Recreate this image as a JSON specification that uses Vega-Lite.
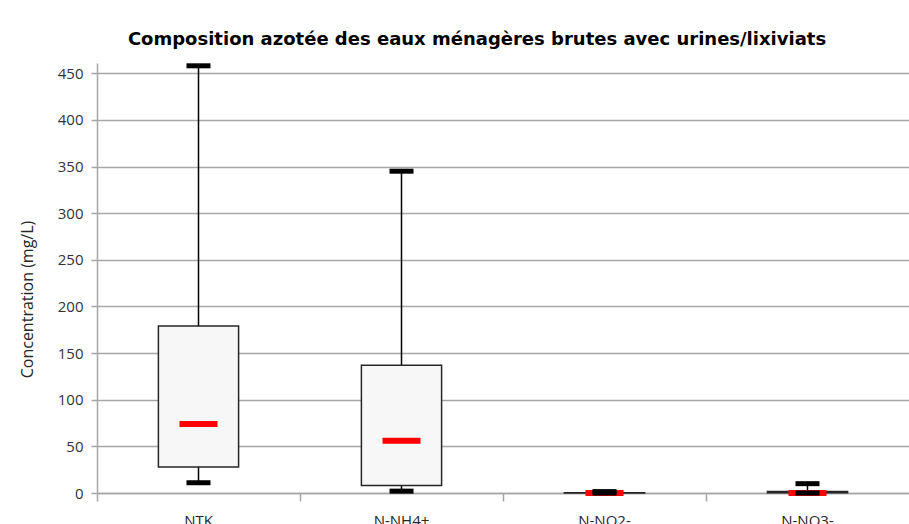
{
  "$schema": "https://vega.github.io/schema/vega-lite/v6.json",
  "autosize": {"type": "none"},
  "padding": {"left": 97, "top": 63, "right": 0, "bottom": 31},
  "width": 812,
  "height": 430,
  "background": "white",
  "title": {
    "text": "Composition azotée  des eaux ménagères brutes avec urines/lixiviats",
    "font": "DejaVu Sans",
    "fontSize": 18,
    "fontWeight": "bold",
    "color": "#000000",
    "anchor": "middle",
    "frame": "group",
    "dx": -26,
    "dy": -10
  },
  "data": {
    "values": [
      {"param": "NTK", "min": 11, "q1": 28, "median": 74, "q3": 179, "max": 458},
      {"param": "N-NH4+", "min": 2, "q1": 8, "median": 56, "q3": 137, "max": 345},
      {"param": "N-NO2-", "min": 0, "q1": 0, "median": 0, "q3": 0.4, "max": 1.5},
      {"param": "N-NO3-", "min": 0, "q1": 0.3, "median": 0, "q3": 1.5, "max": 10}
    ]
  },
  "encoding": {
    "x": {
      "field": "param",
      "type": "nominal",
      "sort": null,
      "scale": {"paddingInner": 0, "paddingOuter": 0},
      "axis": {
        "title": null,
        "labelAngle": 0,
        "labelFont": "Open Sans",
        "labelFontSize": 15,
        "labelColor": "#262626",
        "labelPadding": 12,
        "tickSize": 8,
        "tickColor": "#a6a6a6",
        "tickWidth": 1.5,
        "bandPosition": 0,
        "domainColor": "#a6a6a6",
        "domainWidth": 1.5,
        "grid": false
      }
    }
  },
  "layer": [
    {
      "mark": {"type": "rule", "color": "#000000", "strokeWidth": 1.5},
      "encoding": {
        "y": {
          "field": "min",
          "type": "quantitative",
          "scale": {"domain": [0, 461], "nice": false},
          "axis": {
            "title": "Concentration (mg/L)",
            "titleFont": "Open Sans",
            "titleFontSize": 16,
            "titleFontWeight": "normal",
            "titleColor": "#262626",
            "titleX": -62,
            "titleY": 236,
            "values": [0, 50, 100, 150, 200, 250, 300, 350, 400, 450],
            "labelFont": "Open Sans",
            "labelFontSize": 15,
            "labelColor": "#333333",
            "labelPadding": 8,
            "tickSize": 6,
            "tickColor": "#a6a6a6",
            "tickWidth": 1.5,
            "domainColor": "#a6a6a6",
            "domainWidth": 1.5,
            "grid": true,
            "gridColor": "#a6a6a6",
            "gridWidth": 1.5
          }
        },
        "y2": {"field": "max"}
      }
    },
    {
      "mark": {"type": "bar", "width": {"band": 0.395}, "fill": "#f7f7f7", "stroke": "#262626", "strokeWidth": 1.5},
      "encoding": {
        "y": {"field": "q1", "type": "quantitative"},
        "y2": {"field": "q3"}
      }
    },
    {
      "mark": {"type": "tick", "color": "#ff0000", "size": 38, "thickness": 6, "opacity": 1},
      "encoding": {
        "y": {"field": "median", "type": "quantitative"}
      }
    },
    {
      "mark": {"type": "tick", "color": "#000000", "size": 24, "thickness": 5, "opacity": 1},
      "encoding": {
        "y": {"field": "min", "type": "quantitative"}
      }
    },
    {
      "mark": {"type": "tick", "color": "#000000", "size": 24, "thickness": 5, "opacity": 1},
      "encoding": {
        "y": {"field": "max", "type": "quantitative"}
      }
    }
  ],
  "config": {
    "view": {"stroke": null}
  }
}
